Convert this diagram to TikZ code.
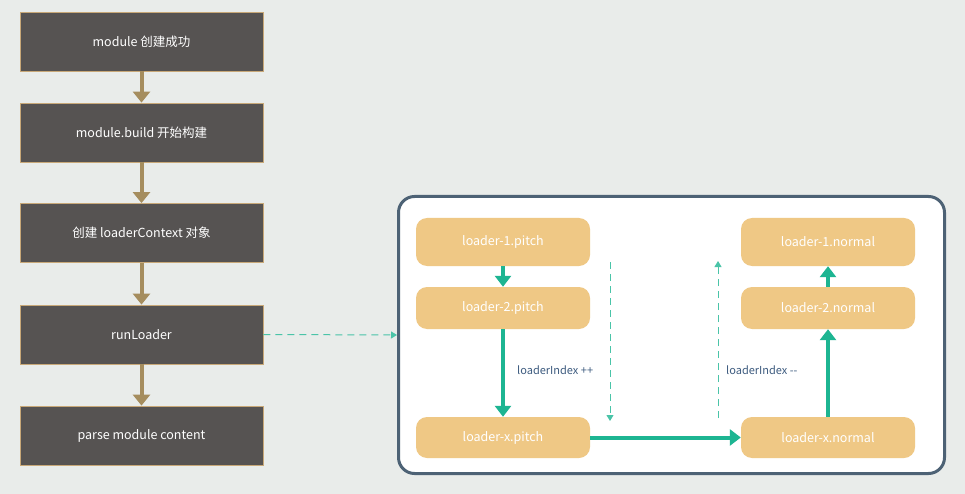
\documentclass[tikz,border=0pt]{standalone}
\usepackage{fontspec}
\setmainfont{Noto Sans CJK SC}
\usetikzlibrary{arrows.meta}
\definecolor{bg}{HTML}{E9ECEA}
\definecolor{darkbox}{HTML}{565352}
\definecolor{tanline}{HTML}{C8A878}
\definecolor{tanarrow}{HTML}{A58D5E}
\definecolor{teal}{HTML}{1DB592}
\definecolor{frame}{HTML}{4D6275}
\definecolor{orangebox}{HTML}{EFC885}
\definecolor{labelblue}{HTML}{3E5C80}
\tikzset{
  stepbox/.style={draw=tanline, line width=0.8pt, fill=darkbox, text=white, minimum width=243pt, minimum height=59pt, inner sep=0pt, font=\fontsize{12.5}{14}\selectfont},
  ldbox/.style={fill=orangebox, rounded corners=11pt, text=white, minimum width=174pt, inner sep=0pt, font=\fontsize{12.5}{14}\selectfont},
  tanarr/.style={draw=tanarrow, line width=4pt, -{Triangle[width=17pt,length=11pt]}},
  tealarr/.style={draw=teal, line width=4pt, -{Triangle[width=16pt,length=11pt]}},
  dasharr/.style={draw=teal!80, line width=1pt, dash pattern=on 7pt off 5pt, -{Triangle[width=7pt,length=6pt]}},
  idxlabel/.style={text=labelblue, font=\fontsize{11}{13}\selectfont, inner sep=0pt}
}
\begin{document}
\begin{tikzpicture}[x=1pt,y=-1pt]
\fill[bg] (0,0) rectangle (965,494);
\useasboundingbox (0,0) rectangle (965,494);
% left column
\node[stepbox] (m1) at (141.5,41.5) {module 创建成功};
\node[stepbox] (m2) at (141.5,132.5) {module.build 开始构建};
\node[stepbox] (m3) at (141.5,233) {创建 loaderContext 对象};
\node[stepbox] (m4) at (141.5,334.5) {runLoader};
\node[stepbox] (m5) at (141.5,435.5) {parse module content};
\draw[tanarr] (m1) -- (m2);
\draw[tanarr] (m2) -- (m3);
\draw[tanarr] (m3) -- (m4);
\draw[tanarr] (m4) -- (m5);
% frame
\node[draw=frame, line width=3pt, fill=white, rounded corners=16pt, minimum width=546pt, minimum height=277pt, inner sep=0pt] (fr) at (671.5,335) {};
\draw[dasharr] (m4.east) -- (fr.west);
% pitch
\node[ldbox, minimum height=48pt] (p1) at (503,242) {loader-1.pitch};
\node[ldbox, minimum height=42pt] (p2) at (503,308) {loader-2.pitch};
\node[ldbox, minimum height=41pt] (px) at (503,437.5) {loader-x.pitch};
% normal
\node[ldbox, minimum height=48pt] (n1) at (828,242) {loader-1.normal};
\node[ldbox, minimum height=42pt] (n2) at (828,308) {loader-2.normal};
\node[ldbox, minimum height=41pt] (nx) at (828,437.5) {loader-x.normal};
\draw[tealarr] (p1) -- (p2);
\draw[tealarr] (p2) -- (px);
\draw[tealarr] (px) -- (nx);
\draw[tealarr] (nx) -- (n2);
\draw[tealarr] (n2) -- (n1);
% dashed index arrows
\coordinate (d1s) at (610,262);
\coordinate (d1e) at (610,421);
\coordinate (d2s) at (718,418);
\coordinate (d2e) at (718,261);
\draw[dasharr] (d1s) -- (d1e);
\draw[dasharr] (d2s) -- (d2e);
\node[idxlabel, anchor=west] (l1) at (517,370) {loaderIndex ++};
\node[idxlabel, anchor=west] (l2) at (726,370) {loaderIndex -{}-};
\end{tikzpicture}
\end{document}
